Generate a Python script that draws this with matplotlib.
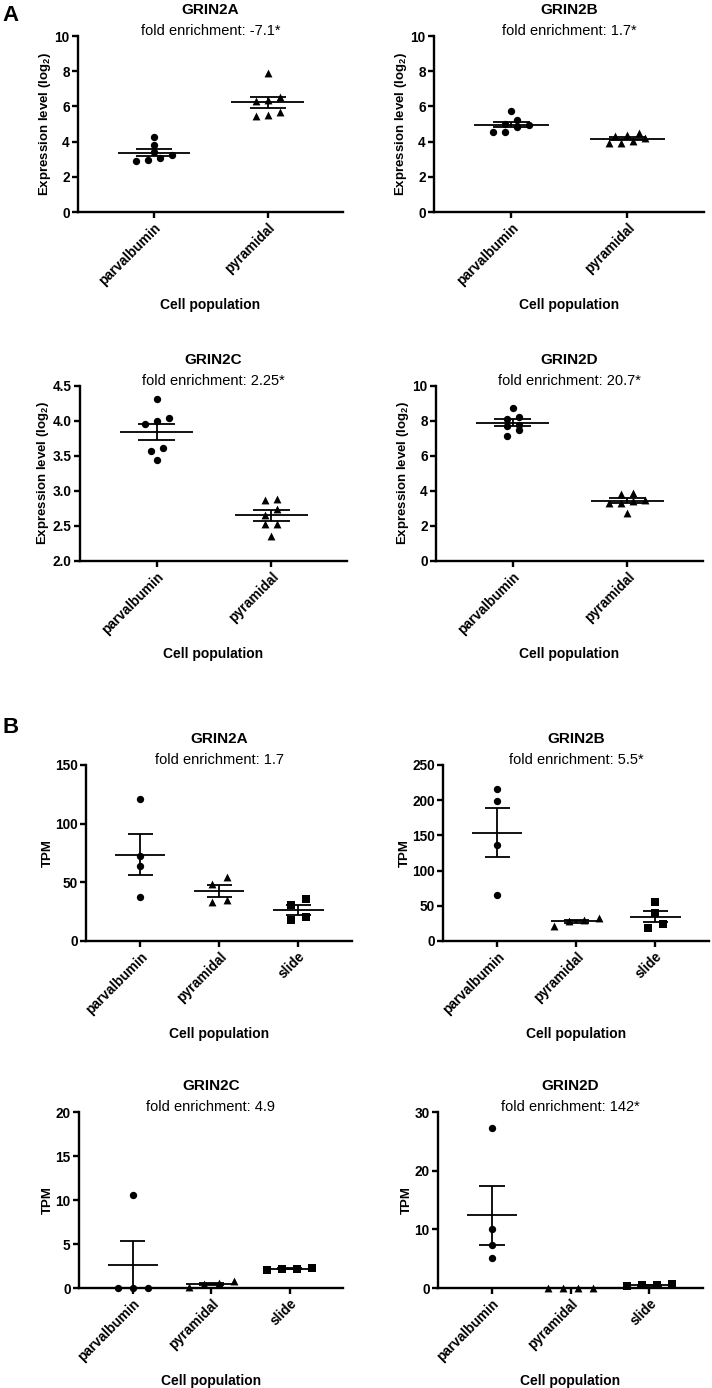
import numpy as np
import matplotlib.pyplot as plt

plt.rcParams['font.family'] = ['Liberation Sans', 'DejaVu Sans']
plt.rcParams['mathtext.fontset'] = 'custom'
plt.rcParams['mathtext.rm'] = 'Liberation Sans'
plt.rcParams['mathtext.bf'] = 'Liberation Sans:bold'

genes = ['GRIN2A', 'GRIN2B', 'GRIN2C', 'GRIN2D']
cells_a = ['parvalbumin', 'pyramidal']
cells_b = ['parvalbumin', 'pyramidal', 'slide']
fold_a = ['-7.1*', '1.7*', '2.25*', '20.7*']
fold_b = ['1.7', '5.5*', '4.9', '142*']

# A: expression level (log2), parvalbumin vs pyramidal
a_2a_pv = [4.24, 3.81, 3.39, 3.22, 2.92, 2.95, 3.09]
a_2a_pyr = [7.88, 6.36, 6.52, 6.30, 5.47, 5.66, 5.51]
a_2b_pv = [5.72, 5.00, 4.92, 5.23, 4.53, 4.56, 4.81]
a_2b_pyr = [4.30, 3.90, 4.20, 4.35, 3.90, 4.50, 4.05]
a_2c_pv = [4.31, 3.95, 4.04, 4.00, 3.57, 3.61, 3.44]
a_2c_pyr = [2.87, 2.88, 2.74, 2.66, 2.53, 2.53, 2.35]
a_2d_pv = [8.76, 8.23, 8.12, 7.76, 7.70, 7.47, 7.17]
a_2d_pyr = [3.80, 3.90, 3.33, 3.48, 3.33, 3.44, 2.76]

# B: TPM, parvalbumin / pyramidal / slide
b_2a_pv = [121.0, 72.7, 63.9, 37.2]
b_2a_pyr = [48.9, 54.5, 33.0, 34.7]
b_2a_sl = [31.0, 36.0, 17.6, 20.5]
b_2b_pv = [216.0, 199.0, 135.7, 65.0]
b_2b_pyr = [22.0, 32.0, 30.0, 29.0]
b_2b_sl = [55.5, 39.8, 19.0, 24.7]
b_2c_pv = [10.57, 0.0, 0.0, 0.0]
b_2c_pyr = [0.08, 0.76, 0.40, 0.57]
b_2c_sl = [2.08, 2.31, 2.16, 2.16]
b_2d_pv = [27.2, 10.0, 7.4, 5.1]
b_2d_pyr = [0.0, 0.05, 0.0, 0.02]
b_2d_sl = [0.28, 0.74, 0.45, 0.45]

data_a = [[a_2a_pv, a_2a_pyr], [a_2b_pv, a_2b_pyr],
          [a_2c_pv, a_2c_pyr], [a_2d_pv, a_2d_pyr]]
data_b = [[b_2a_pv, b_2a_pyr, b_2a_sl], [b_2b_pv, b_2b_pyr, b_2b_sl],
          [b_2c_pv, b_2c_pyr, b_2c_sl], [b_2d_pv, b_2d_pyr, b_2d_sl]]

ylim_a = [(0, 10, 2), (0, 10, 2), (2, 4.5, 0.5), (0, 10, 2)]
ylim_b = [(0, 150, 50), (0, 250, 50), (0, 20, 5), (0, 30, 10)]

markers = ['o', '^', 's']
msize = [28, 32, 26]

# axes boxes in pixels: left, right, top, bottom
W, H = 712, 1388
boxes = [(78, 343, 36, 212), (434, 704, 36, 212),
         (80, 347, 386, 561), (436, 703, 386, 561),
         (86, 352, 765, 941), (443, 709, 765, 941),
         (79, 343, 1112, 1288), (438, 703, 1112, 1288)]


def swarm_x(ax, xc, vals, ygap, xstep):
    vals = np.asarray(vals, dtype=float)
    ypix = ax.transData.transform(np.column_stack([np.zeros(len(vals)), vals]))[:, 1]
    xpu = ax.transData.transform((1, 0))[0] - ax.transData.transform((0, 0))[0]
    rows = []
    for i in np.argsort(ypix, kind='stable'):
        if rows and ypix[i] - ypix[rows[-1][0]] < ygap:
            rows[-1].append(i)
        else:
            rows.append([i])
    x = np.full(len(vals), float(xc))
    for r in rows:
        n = len(r)
        for j, i in enumerate(r):
            x[i] += (j - (n - 1) / 2) * xstep / xpu
    return x


def panel(ax, groups, cats, ylim, gene, fold, ylabel, xlim, ygap, xstep, hpx):
    lo, hi, step = ylim
    ax.set_xlim(*xlim)
    ax.set_ylim(lo, hi)
    ticks = np.arange(lo, hi + step / 2, step)
    ax.set_yticks(ticks)
    if step < 1:
        ax.set_yticklabels([f'{t:.1f}' for t in ticks])
    ax.set_xticks(range(len(cats)))
    ax.set_xticklabels(cats, rotation=45, ha='right', rotation_mode='anchor')
    for sp in ['top', 'right']:
        ax.spines[sp].set_visible(False)
    for sp in ['left', 'bottom']:
        ax.spines[sp].set_linewidth(1.7)
    ax.tick_params(width=1.7, length=4, labelsize=9.8, pad=2)
    for lab in ax.get_xticklabels() + ax.get_yticklabels():
        lab.set_fontweight('bold')
    ax.set_xlabel('Cell population', fontsize=10, fontweight='bold')
    ax.xaxis.set_label_coords(0.5, -97 / hpx)
    ax.xaxis.label.set_va('baseline')
    ax.set_ylabel(ylabel, fontsize=9.5, fontweight='bold', labelpad=1)
    ax.annotate(gene, (0.5, 1), xycoords='axes fraction', xytext=(0, 16),
                textcoords='offset points', ha='center', va='baseline',
                fontsize=11, fontweight='bold')
    ax.annotate('fold enrichment: ' + fold, (0.5, 1), xycoords='axes fraction',
                xytext=(0, 1), textcoords='offset points', ha='center',
                va='baseline', fontsize=10.5)

    for k, vals in enumerate(groups):
        v = np.asarray(vals, dtype=float)
        m = v.mean()
        s = v.std(ddof=1) / np.sqrt(len(v))
        ax.hlines(m, k - 0.32, k + 0.32, color='black', lw=1.3, zorder=2)
        ax.vlines(k, m - s, m + s, color='black', lw=1.3, zorder=2)
        ax.hlines([m - s, m + s], k - 0.16, k + 0.16, color='black', lw=1.3, zorder=2)
        xs = swarm_x(ax, k, v, ygap, xstep)
        ax.scatter(xs, v, marker=markers[k], s=msize[k], color='black',
                   linewidths=0, zorder=3, clip_on=False)


fig = plt.figure(figsize=(W / 100, H / 100), dpi=100)

ylab_a = r'Expression level (log$_\mathbf{2}$)'
for i in range(8):
    l, r, t, b = boxes[i]
    ax = fig.add_axes([l / W, 1 - b / H, (r - l) / W, (b - t) / H])
    g = i % 4
    if i < 4:
        panel(ax, data_a[g], cells_a, ylim_a[g], genes[g], fold_a[g],
              ylab_a, (-0.667, 1.66), 7, 12, b - t)
    else:
        panel(ax, data_b[g], cells_b, ylim_b[g], genes[g], fold_b[g],
              'TPM', (-0.685, 2.68), 8, 15, b - t)

fig.text(2 / W, 1 - 21 / H, 'A', fontsize=16, fontweight='bold', va='baseline')
fig.text(3 / W, 1 - 733 / H, 'B', fontsize=16, fontweight='bold', va='baseline')

fig.savefig('out.png', dpi=100)
